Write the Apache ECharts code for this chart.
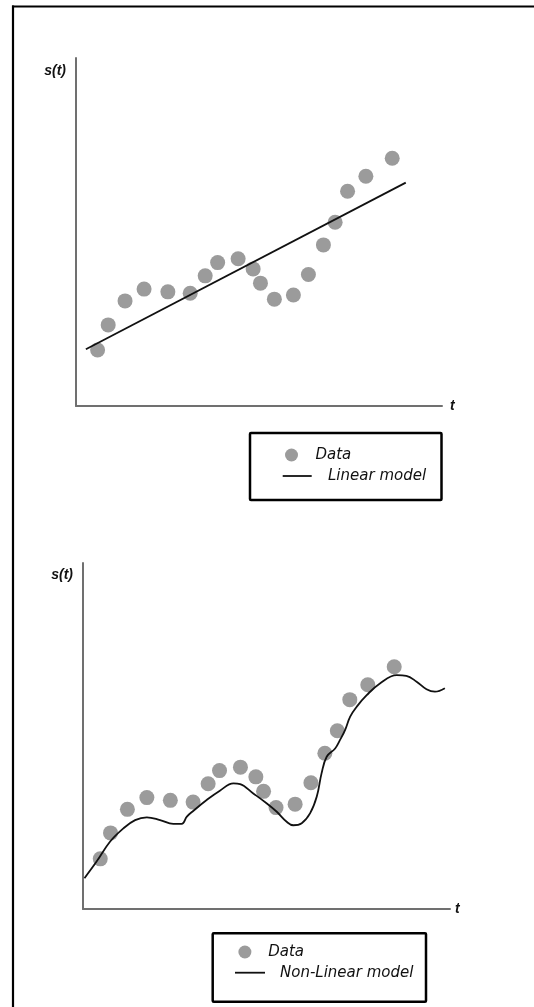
<!DOCTYPE html>
<html>
<head>
<meta charset="utf-8">
<script src="https://cdn.jsdelivr.net/npm/echarts@6/dist/echarts.min.js"></script>
<style>
html,body{margin:0;padding:0;background:#fff;}
#c{width:534px;height:1007px;}
</style>
</head>
<body>
<div id="c"></div>
<script>
// ---- Data (arbitrary units, t and s in 0..100) ----
var linearDataT = [5.9, 8.8, 13.4, 18.6, 25.1, 31.2, 35.3, 38.7, 44.3, 48.4, 50.4, 54.2, 59.4, 63.5, 67.6, 70.8, 74.2, 79.2, 86.4];
var linearDataS = [16.1, 23.3, 30.2, 33.6, 32.8, 32.4, 37.4, 41.2, 42.3, 39.4, 35.3, 30.7, 31.9, 37.8, 46.3, 52.8, 61.7, 66.0, 71.2];
var linearModelT = [2.7, 90.1];
var linearModelS = [16.3, 64.2];

var nonlinDataT = [4.7, 7.5, 12.1, 17.4, 23.8, 30.0, 34.1, 37.2, 42.9, 47.1, 49.2, 52.6, 57.8, 62.1, 65.9, 69.3, 72.7, 77.6, 84.8];
var nonlinDataS = [14.5, 22.0, 28.8, 32.2, 31.4, 30.9, 36.2, 40.0, 41.0, 38.2, 34.0, 29.3, 30.3, 36.5, 45.0, 51.5, 60.5, 64.8, 70.0];
var nonlinModelT = [0.4, 3.7, 7.4, 11.0, 14.2, 17.4, 21.0, 24.6, 26.9, 28.3, 30.1, 33.7, 37.3, 41.0, 42.8, 46.4, 50.1, 52.8, 55.5, 57.3, 59.6, 61.9, 63.7, 65.0, 66.4, 68.7, 70.0, 71.4, 72.8, 74.6, 77.3, 80.9, 85.5, 88.1, 90.9, 93.6, 95.9, 98.6];
var nonlinModelS = [8.9, 13.7, 19.5, 23.3, 25.7, 26.5, 25.7, 24.6, 24.6, 26.7, 28.4, 31.5, 34.2, 36.3, 36.1, 33.4, 30.5, 28.1, 25.2, 24.2, 24.8, 27.7, 32.5, 39.2, 44.0, 46.4, 48.8, 51.7, 55.6, 58.5, 61.8, 65.2, 67.6, 67.4, 65.7, 63.5, 62.8, 63.8];

var yName = 's(t)';
var xName = 't';
var dataName = 'Data';
var linName = 'Linear model';
var nonlinName = 'Non-Linear model';

function zip(a, b) { return a.map(function (v, i) { return [v, b[i]]; }); }

var chart = echarts.init(document.getElementById('c'), null, {renderer: 'canvas'});

var axisLine = {show: true, lineStyle: {color: '#707070', width: 2}};
var nameStyle = {fontFamily: 'Liberation Sans, Arial, sans-serif', fontWeight: 'bold', fontStyle: 'italic', fontSize: 14, color: '#111'};
function xAx(gi, gap) {
  return {type: 'value', gridIndex: gi, min: 0, max: 100, axisLine: axisLine, axisTick: {show: false},
    axisLabel: {show: false}, splitLine: {show: false}, name: xName, nameLocation: 'end', nameGap: gap,
    nameTextStyle: Object.assign({align: 'left', verticalAlign: 'middle'}, nameStyle)};
}
function yAx(gi, gap) {
  return {type: 'value', gridIndex: gi, min: 0, max: 100, axisLine: axisLine, axisTick: {show: false},
    axisLabel: {show: false}, splitLine: {show: false}, name: yName, nameLocation: 'end', nameGap: gap,
    nameTextStyle: Object.assign({align: 'right', verticalAlign: 'middle', padding: [0, 10, 0, 0]}, nameStyle)};
}
var legendText = {fontFamily: 'DejaVu Sans, Verdana, sans-serif', fontStyle: 'italic', fontSize: 15, color: '#111'};
function lg(name, icon, left, top, w, padLeft) {
  return {data: [{name: name, icon: icon}], left: left, top: top, padding: 0, itemWidth: w, itemHeight: 13,
    selectedMode: false, itemStyle: {borderWidth: 0},
    textStyle: Object.assign({padding: [0, 0, 0, padLeft]}, legendText)};
}

var option = {
  backgroundColor: '#ffffff',
  animation: false,
  grid: [
    {left: 76, top: 58, width: 366, height: 348},
    {left: 83, top: 563, width: 367, height: 346}
  ],
  xAxis: [xAx(0, 8), xAx(1, 5)],
  yAxis: [yAx(0, -13), yAx(1, -12)],
  legend: [
    lg(dataName, 'circle', 285, 447.5, 38, 0),
    lg(linName, 'path://M0,0H29V1.8H0Z', 282.7, 468.5, 29, 11.3),
    lg(dataName, 'circle', 238.4, 944.5, 36.6, 0),
    lg(nonlinName, 'path://M0,0H30V1.8H0Z', 235, 965.2, 30, 10)
  ],
  graphic: [
    {type: 'line', shape: {x1: 12, y1: 6.5, x2: 534, y2: 6.5}, style: {stroke: '#000', lineWidth: 2.2}},
    {type: 'line', shape: {x1: 13, y1: 5.5, x2: 13, y2: 1007}, style: {stroke: '#000', lineWidth: 2.2}},
    {type: 'rect', shape: {x: 250, y: 433, width: 191.5, height: 67, r: 1}, style: {fill: 'none', stroke: '#000', lineWidth: 2.5}, z: 100},
    {type: 'rect', shape: {x: 212.7, y: 933.3, width: 213.3, height: 68.4, r: 1}, style: {fill: 'none', stroke: '#000', lineWidth: 2.5}, z: 100}
  ],
  series: [
    {name: dataName, type: 'scatter', xAxisIndex: 0, yAxisIndex: 0, data: zip(linearDataT, linearDataS),
      symbolSize: 15, itemStyle: {color: '#9b9b9b', opacity: 1}, z: 2},
    {name: linName, type: 'line', xAxisIndex: 0, yAxisIndex: 0, data: zip(linearModelT, linearModelS),
      symbol: 'none', lineStyle: {color: '#111', width: 1.8}, itemStyle: {color: '#111'}, z: 3},
    {name: dataName, type: 'scatter', xAxisIndex: 1, yAxisIndex: 1, data: zip(nonlinDataT, nonlinDataS),
      symbolSize: 15, itemStyle: {color: '#9b9b9b', opacity: 1}, z: 2},
    {name: nonlinName, type: 'line', xAxisIndex: 1, yAxisIndex: 1, data: zip(nonlinModelT, nonlinModelS),
      symbol: 'none', smooth: 0.4, lineStyle: {color: '#111', width: 1.8}, itemStyle: {color: '#111'}, z: 3}
  ]
};
chart.setOption(option);
</script>
</body>
</html>
